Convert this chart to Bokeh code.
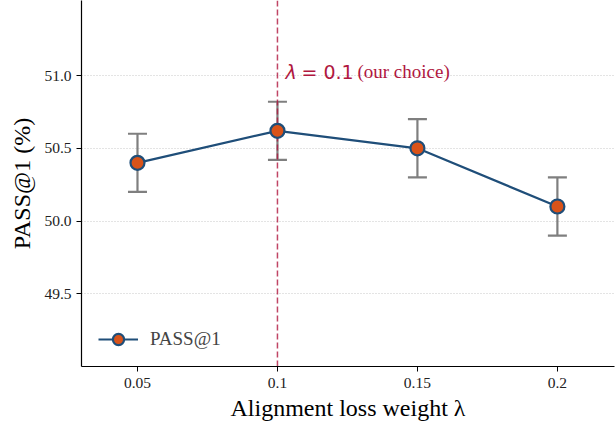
from bokeh.plotting import figure
from bokeh.models import (ColumnDataSource, Whisker, TeeHead, Span, Label, Legend,
                          LegendItem, FixedTicker, Range1d)
from bokeh.embed import file_html
from bokeh.resources import INLINE

# ---- data ----
lambdas = [0.05, 0.1, 0.15, 0.2]
tick_labels = ["0.05", "0.1", "0.15", "0.2"]
pass_at_1 = [50.40, 50.62, 50.50, 50.10]
err = [0.20, 0.20, 0.20, 0.20]
y_ticks = [49.5, 50.0, 50.5, 51.0]
chosen = 0.1
note_y = 51.0

upper = [v + e for v, e in zip(pass_at_1, err)]
lower = [v - e for v, e in zip(pass_at_1, err)]
src = ColumnDataSource(dict(x=lambdas, y=pass_at_1, upper=upper, lower=lower))

SERIF = "Liberation Serif"
BLUE = "#1f4e79"
ORANGE = "#d95319"
GRAY = "#7f7f7f"
RED = "#b0173f"

p = figure(width=615, height=426, output_backend="svg", toolbar_location=None,
           x_range=Range1d(0.03, 0.2204), y_range=Range1d(49.0, 51.516),
           min_border_left=81, min_border_right=1, min_border_top=0,
           min_border_bottom=60)
p.outline_line_color = None
p.background_fill_color = "white"
p.border_fill_color = "white"

# grid
p.xgrid.grid_line_color = None
p.ygrid.grid_line_color = "#c8c8c8"
p.ygrid.grid_line_dash = "1 2"
p.ygrid.grid_line_width = 1

# axes
p.xaxis.ticker = FixedTicker(ticks=lambdas)
p.xaxis.major_label_overrides = {v: t for v, t in zip(lambdas, tick_labels)}
p.yaxis.ticker = FixedTicker(ticks=y_ticks)
p.yaxis.major_label_overrides = {v: f"{v:.1f}" for v in y_ticks}
for ax in (p.xaxis, p.yaxis):
    ax.axis_line_color = "black"
    ax.axis_line_width = 1.2
    ax.major_tick_line_color = "black"
    ax.major_tick_line_width = 1
    ax.major_tick_in = 0
    ax.major_tick_out = 5
    ax.minor_tick_line_color = None
    ax.major_label_text_font = SERIF
    ax.major_label_text_font_size = "15.5px"
    ax.major_label_text_color = "#222222"
    ax.axis_label_text_font = SERIF
    ax.axis_label_text_font_style = "normal"
    ax.axis_label_text_color = "black"
p.xaxis.major_label_standoff = 6
p.yaxis.major_label_standoff = 5
p.xaxis.axis_label = "Alignment loss weight λ"
p.xaxis.axis_label_text_font_size = "24px"
p.xaxis.axis_label_standoff = 4
p.yaxis.axis_label = "PASS@1 (%)"
p.yaxis.axis_label_text_font_size = "24px"
p.yaxis.axis_label_standoff = 6

# error bars
wh = Whisker(source=src, base="x", upper="upper", lower="lower",
             line_color=GRAY, line_width=2.2, level="underlay",
             upper_head=TeeHead(size=19, line_color=GRAY, line_width=2.2),
             lower_head=TeeHead(size=19, line_color=GRAY, line_width=2.2))
p.add_layout(wh)

# chosen lambda line
span = Span(location=chosen, dimension="height", line_color="#b0173f",
            line_alpha=0.8, line_width=1.5, line_dash="6 3", level="underlay")
p.add_layout(span)

# series
ln = p.line("x", "y", source=src, line_color=BLUE, line_width=2.2)
sc = p.scatter("x", "y", source=src, marker="circle", size=14,
               fill_color=ORANGE, line_color=BLUE, line_width=2.2)

# annotation
p.add_layout(Label(x=chosen, y=note_y, x_offset=8, y_offset=4, text="λ",
                   text_font="DejaVu Sans", text_font_style="italic",
                   text_font_size="19px", text_color=RED,
                   text_baseline="alphabetic"))
p.add_layout(Label(x=chosen, y=note_y, x_offset=24, y_offset=4, text="= 0.1",
                   text_font="DejaVu Sans", text_font_size="19px",
                   text_color=RED, text_baseline="alphabetic"))
p.add_layout(Label(x=chosen, y=note_y, x_offset=80, y_offset=4,
                   text="(our choice)", text_font=SERIF, text_font_size="19px",
                   text_color=RED, text_baseline="alphabetic"))

# legend
legend = Legend(items=[LegendItem(label="PASS@1", renderers=[ln, sc])],
                location=(17, 13), border_line_color=None,
                background_fill_alpha=0, padding=5, margin=0,
                glyph_width=40, glyph_height=28, label_standoff=12,
                label_text_font=SERIF, label_text_font_size="19px")
p.add_layout(legend)

open("out.html", "w").write(file_html(p, INLINE))
